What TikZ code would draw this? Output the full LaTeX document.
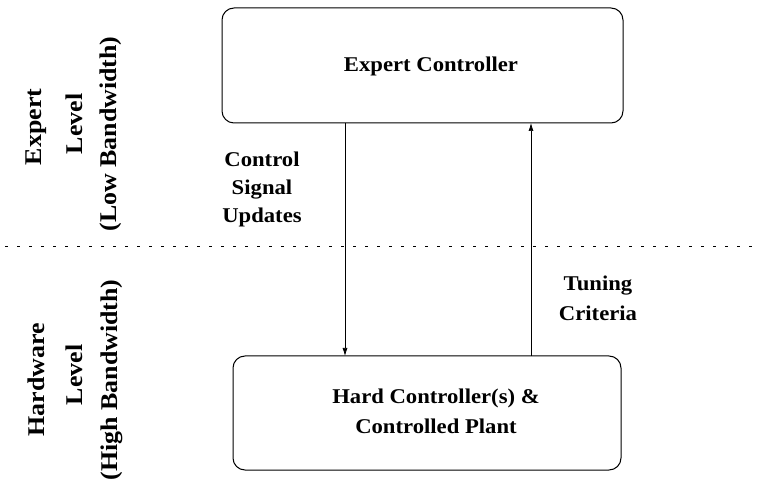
\documentclass[tikz,border=0pt]{standalone}
\usepackage{fontspec}
\setmainfont[FakeStretch=1.08]{Liberation Serif}
\usetikzlibrary{arrows.meta}
\begin{document}
\begin{tikzpicture}[x=1pt,y=-1pt,
  lbl/.style={font=\bfseries\fontsize{21}{30}\selectfont, align=center, inner sep=0pt},
  sidelbl/.style={font=\bfseries\fontsize{24}{28}\selectfont, inner sep=0pt, rotate=90, anchor=center},
  blk/.style={draw, line width=1pt, rounded corners=12pt},
  flow/.style={line width=0.7pt, -{Latex[length=8pt,width=5pt]}}]
\useasboundingbox (0,0) rectangle (761,486);
\fill[white] (0,0) rectangle (761,486);
% level separator
\draw[dash pattern=on 3pt off 9pt, line width=1pt] (5,247) -- (761,247);
% controller blocks
\node[blk, minimum width=401pt, minimum height=115pt] (ec) at (422.5,65.5) {};
\node[lbl] (ect) at (431,66) {Expert Controller};
\node[blk, minimum width=388pt, minimum height=114pt] (hc) at (427,413) {};
\node[lbl] (hct) at (436,411) {Hard Controller(s) \&\\ Controlled Plant};
% signal paths
\coordinate (dtop) at (345,123);
\coordinate (dbot) at (345,356);
\coordinate (utop) at (531,123);
\coordinate (ubot) at (531,356);
\draw[flow] (dtop) -- (dbot);
\draw[flow] (ubot) -- (utop);
% path labels
\node[lbl, font=\bfseries\fontsize{21}{28}\selectfont] (csu) at (262,189) {Control\\ Signal\\ Updates};
\node[lbl] (tc) at (598,298) {Tuning\\ Criteria};
% level labels
\node[sidelbl] (el1) at (36,127) {Expert};
\node[sidelbl] (el2) at (74,124) {Level};
\node[sidelbl] (el3) at (111,134) {(Low Bandwidth)};
\node[sidelbl] (hl1) at (36,380) {Hardware};
\node[sidelbl] (hl2) at (74,375) {Level};
\node[sidelbl] (hl3) at (112,380) {(High Bandwidth)};
\end{tikzpicture}
\end{document}
